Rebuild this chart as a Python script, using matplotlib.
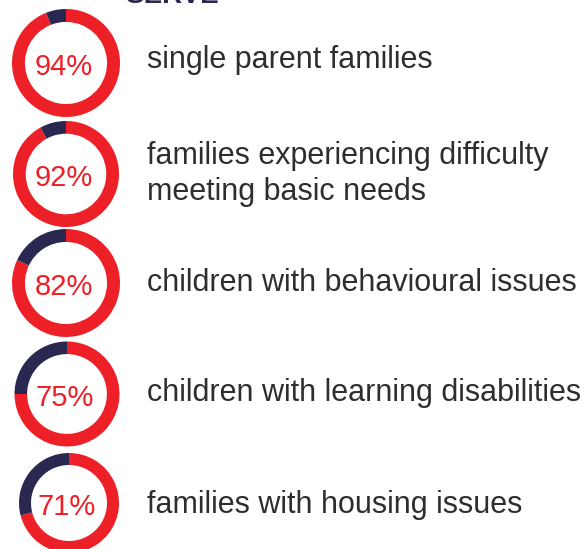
import matplotlib
matplotlib.use("Agg")
import matplotlib.pyplot as plt

W, H = 585, 549
DPI = 100

percentages = [94, 92, 82, 75, 71]
labels = [
    "single parent families",
    "families experiencing difficulty\nmeeting basic needs",
    "children with behavioural issues",
    "children with learning disabilities",
    "families with housing issues",
]
title = "SERVE"

RED = "#ed1f27"
NAVY = "#2a2850"
TEXT = "#2e2e2e"

# layout (pixels)
centers = [(66, 63), (66, 174), (66, 283), (67, 394), (69, 503)]
radii = [54, 53, 54, 52.5, 50]
label_y = [60, 174, 283, 393, 505]

plt.rcParams['font.family'] = ['Liberation Sans', 'DejaVu Sans']

fig = plt.figure(figsize=(W / DPI, H / DPI), dpi=DPI)
fig.patch.set_facecolor("white")
bg = fig.add_axes([0, 0, 1, 1])
bg.set_xlim(0, W)
bg.set_ylim(H, 0)
bg.axis("off")

for p, (cx, cy), r, lab, ly in zip(percentages, centers, radii, labels, label_y):
    ax = fig.add_axes([(cx - r) / W, 1 - (cy + r) / H, 2 * r / W, 2 * r / H])
    ax.pie([p, 100 - p], colors=[RED, NAVY], startangle=90, counterclock=False,
           radius=1.0, wedgeprops=dict(width=0.24, linewidth=0))
    ax.set_xlim(-1, 1)
    ax.set_ylim(-1, 1)
    ax.set_aspect("equal")
    ax.axis("off")
    bg.text(cx - 2, cy + 4, f"{p}%", color=RED, fontsize=21, ha="center", va="center")
    bg.text(147, ly, lab, color=TEXT, fontsize=22, ha="left", va="center",
            linespacing=1.24)

fig.text(125 / W, 1 - 3 / H, title, color=NAVY, fontsize=20, fontweight="bold",
         ha="left", va="baseline")

fig.savefig("out.png", dpi=DPI)
